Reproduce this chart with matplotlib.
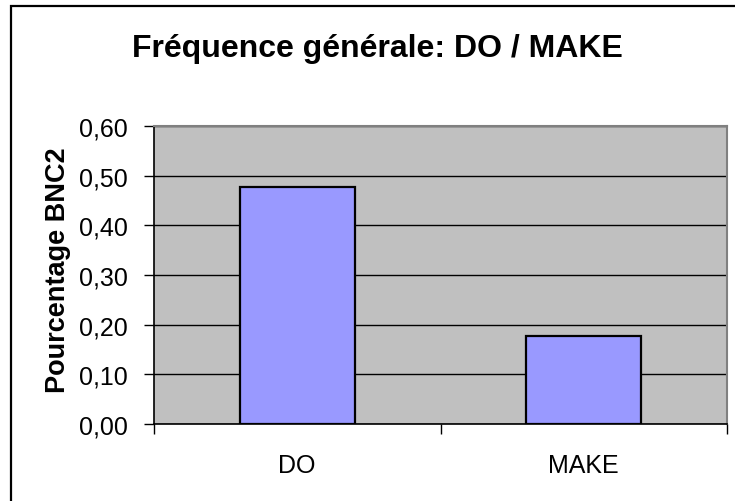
import matplotlib
matplotlib.use('Agg')
import matplotlib.pyplot as plt
from matplotlib.patches import Rectangle

# valeurs
categories = ['DO', 'MAKE']
pourcentages = [0.477, 0.177]
y_ticks = [0.0, 0.1, 0.2, 0.3, 0.4, 0.5, 0.6]

plt.rcParams['font.family'] = ['Liberation Sans', 'DejaVu Sans']

fig = plt.figure(figsize=(7.35, 5.02), dpi=100)
fig.patch.set_facecolor('white')

# cadre extérieur du graphique (coupé à droite et en bas)
fig.patches.append(Rectangle((11/735, -0.1), 1.2, 1.1 - 7/502, transform=fig.transFigure,
                             fill=False, edgecolor='black', linewidth=1.6))

ax = fig.add_axes([154/735, 77/502, 573/735, 298/502])
ax.set_facecolor('#C0C0C0')
ax.set_axisbelow(True)

x = list(range(len(categories)))
ax.bar(x, pourcentages, width=0.4, color='#9999FF', edgecolor='black', linewidth=1.6, zorder=3)

ax.set_xlim(-0.5, len(categories) - 0.5)
ax.set_ylim(0, 0.6)
ax.set_yticks(y_ticks)
ax.set_yticklabels([f'{t:.2f}'.replace('.', ',') for t in y_ticks], fontsize=18)
ax.yaxis.grid(True, color='black', linewidth=1.0)

ax.set_xticks(x)
ax.set_xticklabels(categories, fontsize=18)
ax.tick_params(axis='x', which='major', length=0, pad=21)
ax.set_xticks([-0.5, 0.5, 1.5], minor=True)
ax.tick_params(axis='x', which='minor', length=7, width=1, color='black', direction='out')
ax.tick_params(axis='y', length=7, width=1, direction='out', pad=12)

for side in ['top', 'right']:
    ax.spines[side].set_color('#808080')
    ax.spines[side].set_linewidth(1.5)
ax.spines['left'].set_color('black')
ax.spines['bottom'].set_color('black')
ax.spines['left'].set_linewidth(1.2)
ax.spines['bottom'].set_linewidth(1.2)

fig.text(377/735, 1 - 57/502, 'Fréquence générale: DO / MAKE', ha='center', va='baseline',
         fontsize=23, fontweight='bold')
fig.text(58/735, 1 - 270/502, 'Pourcentage BNC2', ha='center', va='center', rotation=90,
         fontsize=19.5, fontweight='bold')

plt.savefig('out.png', dpi=100)
